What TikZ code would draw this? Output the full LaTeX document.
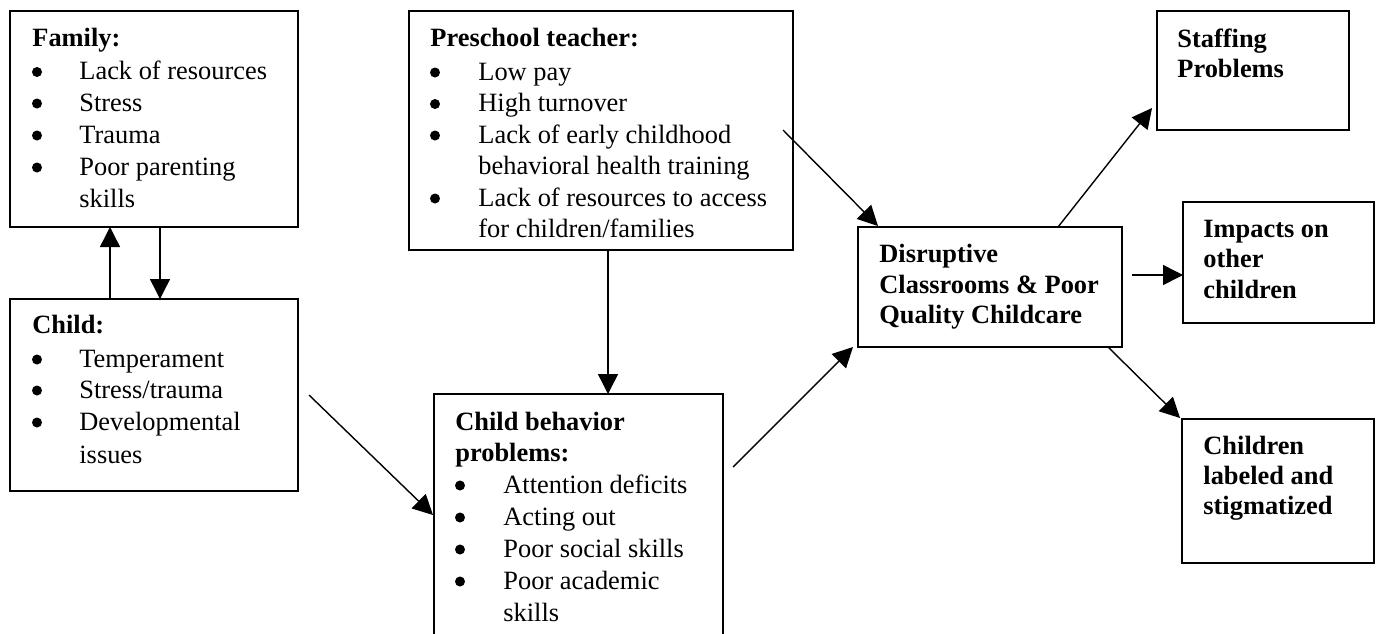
\documentclass[tikz,border=0pt]{standalone}
\usepackage{fontspec}
\setmainfont{Liberation Serif}
\usetikzlibrary{arrows.meta}
\begin{document}
\begin{tikzpicture}[x=0.5pt,y=-0.5pt,
  box/.style={draw, line width=1pt, anchor=north west, inner sep=0pt, outer sep=0pt},
  txt/.style={anchor=base west, inner sep=0pt, font=\fontsize{13.2}{16}\selectfont},
  ttl/.style={anchor=base west, inner sep=0pt, font=\fontsize{13.2}{16}\selectfont\bfseries},
  bul/.style={circle, fill, inner sep=0pt, minimum size=5pt, yshift=3.75pt},
  arr/.style={line width=0.7pt, -{Triangle[length=10pt,width=10pt]}}]
\clip (0,0) rectangle (1379,633);
\fill[white] (0,0) rectangle (1379,633);

% boxes
\node[box, minimum width=144pt, minimum height=108pt] (fam) at (10,11) {};
\node[box, minimum width=144pt, minimum height=96pt] (chi) at (10,299) {};
\node[box, minimum width=192pt, minimum height=119.5pt] (pre) at (409,11) {};
\node[box, minimum width=144.5pt, minimum height=140pt] (cbp) at (434,394) {};
\node[box, minimum width=132pt, minimum height=60pt] (dis) at (858,227) {};
\node[box, minimum width=96pt, minimum height=59.5pt] (sta) at (1157,11) {};
\node[box, minimum width=95.5pt, minimum height=60.5pt] (imp) at (1183,202) {};
\node[box, minimum width=96pt, minimum height=72pt] (lab) at (1182,419) {};

% Family
\node[ttl] (f0) at (32,46) {Family:};
\node[bul] (fb1) at (37,79.5) {};  \node[txt] (f1) at (79,79.5) {Lack of resources};
\node[bul] (fb2) at (37,111) {};   \node[txt] (f2) at (79,111) {Stress};
\node[bul] (fb3) at (37,143) {};   \node[txt] (f3) at (79,143) {Trauma};
\node[bul] (fb4) at (37,175) {};   \node[txt] (f4) at (79,175) {Poor parenting};
\node[txt] (f5) at (79,207) {skills};

% Child
\node[ttl] (c0) at (32,333) {Child:};
\node[bul] (cb1) at (37,367) {};  \node[txt] (c1) at (79,367) {Temperament};
\node[bul] (cb2) at (37,398) {};  \node[txt] (c2) at (79,398) {Stress/trauma};
\node[bul] (cb3) at (37,430) {};  \node[txt] (c3) at (79,430) {Developmental};
\node[txt] (c4) at (79,463) {issues};

% Preschool teacher
\node[ttl] (p0) at (430,46) {Preschool teacher:};
\node[bul] (pb1) at (435,80) {};    \node[txt] (p1) at (478,80) {Low pay};
\node[bul] (pb2) at (435,111.5) {}; \node[txt] (p2) at (478,111.5) {High turnover};
\node[bul] (pb3) at (435,143) {};   \node[txt] (p3) at (478,143) {Lack of early childhood};
\node[txt] (p4) at (478,174.5) {behavioral health training};
\node[bul] (pb5) at (435,206) {};   \node[txt] (p5) at (478,206) {Lack of resources to access};
\node[txt] (p6) at (478,237.5) {for children/families};

% Child behavior problems
\node[ttl] (b0) at (455,430) {Child behavior};
\node[ttl] (b00) at (455,461) {problems:};
\node[bul] (bb1) at (460,493) {}; \node[txt] (b1) at (503,493) {Attention deficits};
\node[bul] (bb2) at (460,525) {}; \node[txt] (b2) at (503,525) {Acting out};
\node[bul] (bb3) at (460,557) {}; \node[txt] (b3) at (503,557) {Poor social skills};
\node[bul] (bb4) at (460,589) {}; \node[txt] (b4) at (503,589) {Poor academic};
\node[txt] (b5) at (503,621) {skills};

% Disruptive
\node[ttl] (d1) at (879,262) {Disruptive};
\node[ttl] (d2) at (879,293) {Classrooms \& Poor};
\node[ttl] (d3) at (879,323) {Quality Childcare};

% Staffing
\node[ttl] (s1) at (1177,47) {Staffing};
\node[ttl] (s2) at (1177,77) {Problems};

% Impacts
\node[ttl] (i1) at (1203,237) {Impacts on};
\node[ttl] (i2) at (1203,267) {other};
\node[ttl] (i3) at (1203,298) {children};

% Children labeled
\node[ttl] (l1) at (1203,454) {Children};
\node[ttl] (l2) at (1203,484) {labeled and};
\node[ttl] (l3) at (1203,514) {stigmatized};

% connectors
\draw[arr] ([xshift=50pt]chi.north west) -- ([xshift=50pt]fam.south west);
\draw[arr] ([xshift=75pt]fam.south west) -- ([xshift=75pt]chi.north west);
\coordinate (pq) at ([xshift=99.5pt]pre.south west);
\draw[arr] (pq) -- (pq |- cbp.north);
\draw[arr] ([xshift=5.5pt,yshift=-48pt]chi.north east) -- ([xshift=-0.5pt,yshift=-60.5pt]cbp.north west);
\draw[arr] ([xshift=-5pt,yshift=-59.5pt]pre.north east) -- ([xshift=10pt,yshift=0.5pt]dis.north west);
\draw[arr] ([xshift=5pt,yshift=-36.5pt]cbp.north east) -- ([xshift=-2.5pt]dis.south west);
\draw[arr] ([xshift=-32pt]dis.north east) -- ([xshift=-2.5pt,yshift=11pt]sta.south west);
\coordinate (di) at ([xshift=5pt,yshift=6pt]dis.east);
\draw[arr] (di) -- (di -| imp.west);
\draw[arr] ([xshift=-7pt]dis.south east) -- ([xshift=-1pt,yshift=0.5pt]lab.north west);
\end{tikzpicture}
\end{document}
